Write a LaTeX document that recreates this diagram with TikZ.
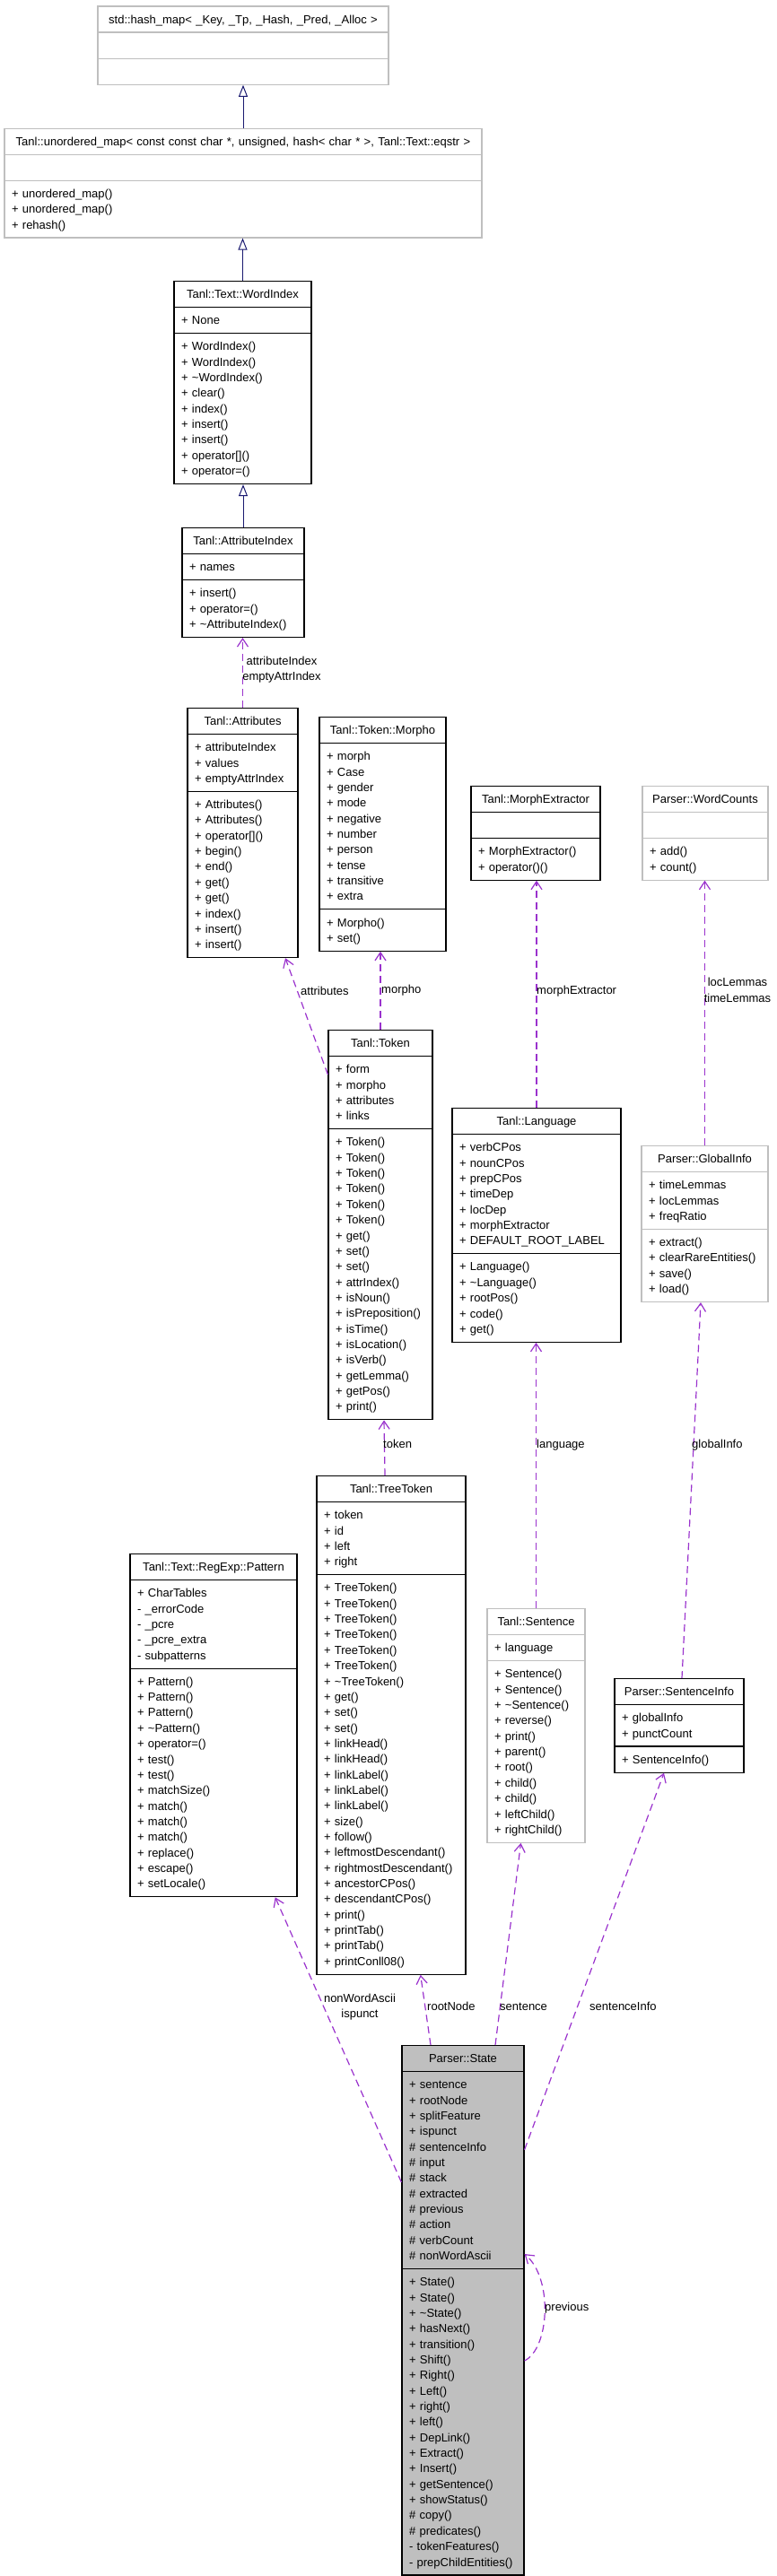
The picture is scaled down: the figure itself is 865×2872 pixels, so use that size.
\documentclass[tikz,border=0pt]{standalone}
\usepackage{fontspec}
\setmainfont{Liberation Sans}
\usetikzlibrary{shapes.multipart,arrows.meta}

\definecolor{inheritblue}{HTML}{191970}
\definecolor{usepurple}{HTML}{9A32CD}
\definecolor{lightgrey}{HTML}{BFBFBF}

\newcommand{\classfont}{\fontsize{13pt}{17.35pt}\selectfont}
\newcommand{\cstrut}{\rule[-4.05pt]{0pt}{17.35pt}}
\newcommand{\ctitle}[1]{\cstrut\makebox[\linewidth][c]{#1}}

\tikzset{
  classbox/.style={rectangle split, rectangle split parts=3, draw=black,
    line width=1.2pt, fill=white, inner xsep=8pt, inner ysep=5.25pt,
    text width=#1, align=left, anchor=north, font=\classfont},
  greyclass/.style={classbox=#1, draw=lightgrey},
  stateclass/.style={classbox=#1, fill=lightgrey},
  inherits/.style={draw=inheritblue, line width=1pt,
    -{Triangle[open, length=13pt, width=10pt]}},
  uses/.style={draw=usepurple, line width=1.2pt, dash pattern=on 8pt off 5pt,
    -{Straight Barb[length=9pt, width=12pt]}},
  edgelabel/.style={font=\classfont, inner sep=0pt}
}

\begin{document}
\begin{tikzpicture}[x=1pt, y=-1pt]
    \useasboundingbox (0,0) rectangle (865,2872);
    % draw the base classes
    \node[greyclass=308pt] (hashmap) at (271,6.4)
        {\ctitle{std::hash\_map< \_Key, \_Tp, \_Hash, \_Pred, \_Alloc >}
         \nodepart{two}\cstrut
         \nodepart{three}\cstrut};
    \node[greyclass=516pt] (unordmap) at (271,142.5)
        {\ctitle{Tanl::unordered\_map< const const char *, unsigned, hash< char * >, Tanl::Text::eqstr >}
         \nodepart{two}\cstrut
         \nodepart{three}\cstrut + unordered\_map()\\+ unordered\_map()\\+ rehash()\cstrut};
    \node[classbox=137pt] (wordindex) at (270.5,313)
        {\ctitle{Tanl::Text::WordIndex}
         \nodepart{two}\cstrut + None\cstrut
         \nodepart{three}\cstrut + WordIndex()\\+ WordIndex()\\+ \textasciitilde WordIndex()\\+ clear()\\+ index()\\+ insert()\\+ insert()\\+ operator[]()\\+ operator=()\cstrut};
    \node[classbox=120pt] (attrindex) at (271,588)
        {\ctitle{Tanl::AttributeIndex}
         \nodepart{two}\cstrut + names\cstrut
         \nodepart{three}\cstrut + insert()\\+ operator=()\\+ \textasciitilde AttributeIndex()\cstrut};
    \node[classbox=107pt] (attributes) at (270.5,789)
        {\ctitle{Tanl::Attributes}
         \nodepart{two}\cstrut + attributeIndex\\+ values\\+ emptyAttrIndex\cstrut
         \nodepart{three}\cstrut + Attributes()\\+ Attributes()\\+ operator[]()\\+ begin()\\+ end()\\+ get()\\+ get()\\+ index()\\+ insert()\\+ insert()\cstrut};
    \node[classbox=125pt] (morpho) at (426.5,799)
        {\ctitle{Tanl::Token::Morpho}
         \nodepart{two}\cstrut + morph\\+ Case\\+ gender\\+ mode\\+ negative\\+ number\\+ person\\+ tense\\+ transitive\\+ extra\cstrut
         \nodepart{three}\cstrut + Morpho()\\+ set()\cstrut};
    \node[classbox=128pt] (morphext) at (597,876)
        {\ctitle{Tanl::MorphExtractor}
         \nodepart{two}\cstrut
         \nodepart{three}\cstrut + MorphExtractor()\\+ operator()()\cstrut};
    \node[greyclass=124pt] (wordcounts) at (786,876)
        {\ctitle{Parser::WordCounts}
         \nodepart{two}\cstrut
         \nodepart{three}\cstrut + add()\\+ count()\cstrut};
    % draw the token classes
    \node[classbox=100pt] (token) at (424,1148)
        {\ctitle{Tanl::Token}
         \nodepart{two}\cstrut + form\\+ morpho\\+ attributes\\+ links\cstrut
         \nodepart{three}\cstrut + Token()\\+ Token()\\+ Token()\\+ Token()\\+ Token()\\+ Token()\\+ get()\\+ set()\\+ set()\\+ attrIndex()\\+ isNoun()\\+ isPreposition()\\+ isTime()\\+ isLocation()\\+ isVerb()\\+ getLemma()\\+ getPos()\\+ print()\cstrut};
    \node[classbox=172pt] (language) at (598,1235)
        {\ctitle{Tanl::Language}
         \nodepart{two}\cstrut + verbCPos\\+ nounCPos\\+ prepCPos\\+ timeDep\\+ locDep\\+ morphExtractor\\+ DEFAULT\_ROOT\_LABEL\cstrut
         \nodepart{three}\cstrut + Language()\\+ \textasciitilde Language()\\+ rootPos()\\+ code()\\+ get()\cstrut};
    \node[greyclass=125pt] (globalinfo) at (785.5,1277)
        {\ctitle{Parser::GlobalInfo}
         \nodepart{two}\cstrut + timeLemmas\\+ locLemmas\\+ freqRatio\cstrut
         \nodepart{three}\cstrut + extract()\\+ clearRareEntities()\\+ save()\\+ load()\cstrut};
    \node[classbox=150pt] (treetoken) at (436,1645)
        {\ctitle{Tanl::TreeToken}
         \nodepart{two}\cstrut + token\\+ id\\+ left\\+ right\cstrut
         \nodepart{three}\cstrut + TreeToken()\\+ TreeToken()\\+ TreeToken()\\+ TreeToken()\\+ TreeToken()\\+ TreeToken()\\+ \textasciitilde TreeToken()\\+ get()\\+ set()\\+ set()\\+ linkHead()\\+ linkHead()\\+ linkLabel()\\+ linkLabel()\\+ linkLabel()\\+ size()\\+ follow()\\+ leftmostDescendant()\\+ rightmostDescendant()\\+ ancestorCPos()\\+ descendantCPos()\\+ print()\\+ printTab()\\+ printTab()\\+ printConll08()\cstrut};
    \node[classbox=170pt] (pattern) at (238,1732)
        {\ctitle{Tanl::Text::RegExp::Pattern}
         \nodepart{two}\cstrut + CharTables\\- \_errorCode\\- \_pcre\\- \_pcre\_extra\\- subpatterns\cstrut
         \nodepart{three}\cstrut + Pattern()\\+ Pattern()\\+ Pattern()\\+ \textasciitilde Pattern()\\+ operator=()\\+ test()\\+ test()\\+ matchSize()\\+ match()\\+ match()\\+ match()\\+ replace()\\+ escape()\\+ setLocale()\cstrut};
    \node[greyclass=93pt] (sentence) at (597.5,1793)
        {\ctitle{Tanl::Sentence}
         \nodepart{two}\cstrut + language\cstrut
         \nodepart{three}\cstrut + Sentence()\\+ Sentence()\\+ \textasciitilde Sentence()\\+ reverse()\\+ print()\\+ parent()\\+ root()\\+ child()\\+ child()\\+ leftChild()\\+ rightChild()\cstrut};
    \node[classbox=128pt] (sentenceinfo) at (757,1871)
        {\ctitle{Parser::SentenceInfo}
         \nodepart{two}\cstrut + globalInfo\\+ punctCount\cstrut
         \nodepart{three}\cstrut + SentenceInfo()\cstrut};
    % draw the state class
    \node[stateclass=120pt] (state) at (516,2280)
        {\ctitle{Parser::State}
         \nodepart{two}\cstrut + sentence\\+ rootNode\\+ splitFeature\\+ ispunct\\\# sentenceInfo\\\# input\\\# stack\\\# extracted\\\# previous\\\# action\\\# verbCount\\\# nonWordAscii\cstrut
         \nodepart{three}\cstrut + State()\\+ State()\\+ \textasciitilde State()\\+ hasNext()\\+ transition()\\+ Shift()\\+ Right()\\+ Left()\\+ right()\\+ left()\\+ DepLink()\\+ Extract()\\+ Insert()\\+ getSentence()\\+ showStatus()\\\# copy()\\\# predicates()\\- tokenFeatures()\\- prepChildEntities()\cstrut};
    % draw the inheritance edges
    \draw[inherits] (unordmap.north) -- (hashmap.south);
    \draw[inherits] (wordindex.north) -- (wordindex.north |- unordmap.south);
    \draw[inherits] (attrindex.north) -- (attrindex.north |- wordindex.south);
    % draw the usage edges
    \draw[uses] (attributes.north) -- (attributes.north |- attrindex.south);
    \draw[uses] ([yshift=-50pt]token.north west) -- ([xshift=47.5pt]attributes.south);
    \draw[uses] (token.north) -- (token.north |- morpho.south);
    \draw[uses] (language.north) -- (language.north |- morphext.south);
    \draw[uses] (globalinfo.north) -- (globalinfo.north |- wordcounts.south);
    \draw[uses] ([xshift=-7pt]treetoken.north) -- ([xshift=4pt]token.south);
    \draw[uses] (sentence.north) -- (sentence.north |- language.south);
    \draw[uses] ([xshift=3pt]sentenceinfo.north) -- ([xshift=-4.5pt]globalinfo.south);
    \draw[uses] ([yshift=-153pt]state.north west) -- ([xshift=68.7pt]pattern.south);
    \draw[uses] ([xshift=-36pt]state.north) -- ([xshift=32.7pt]treetoken.south);
    \draw[uses] ([xshift=36pt]state.north) -- ([xshift=-17pt]sentence.south);
    \draw[uses] ([yshift=-116.7pt]state.north east) -- ([xshift=-17pt]sentenceinfo.south);
    \draw[uses] ([yshift=-352pt]state.north east) .. controls +(28,-14) and +(32,27) .. ([yshift=-233pt]state.north east);
    % draw the edge labels
    \node[edgelabel, align=center] (lblattrindex) at (314,746.5) {attributeIndex\\emptyAttrIndex};
    \node[edgelabel, anchor=west] (lblattributes) at (335,1104.6) {attributes};
    \node[edgelabel, anchor=west] (lblmorpho) at (425,1104.6) {morpho};
    \node[edgelabel, anchor=west] (lblmorphext) at (598,1105) {morphExtractor};
    \node[edgelabel, align=center] (lbllemmas) at (822,1104) {locLemmas\\timeLemmas};
    \node[edgelabel, anchor=west] (lbltoken) at (427,1610) {token};
    \node[edgelabel, anchor=west] (lbllanguage) at (598,1610.7) {language};
    \node[edgelabel, anchor=west] (lblglobalinfo) at (771,1610.7) {globalInfo};
    \node[edgelabel, align=center] (lblpattern) at (401,2237.5) {nonWordAscii\\ispunct};
    \node[edgelabel, anchor=west] (lblrootnode) at (476,2237) {rootNode};
    \node[edgelabel, anchor=west] (lblsentence) at (557,2237) {sentence};
    \node[edgelabel, anchor=west] (lblsentinfo) at (657,2237) {sentenceInfo};
    \node[edgelabel, anchor=west] (lblprevious) at (607,2572.7) {previous};
\end{tikzpicture}
\end{document}
